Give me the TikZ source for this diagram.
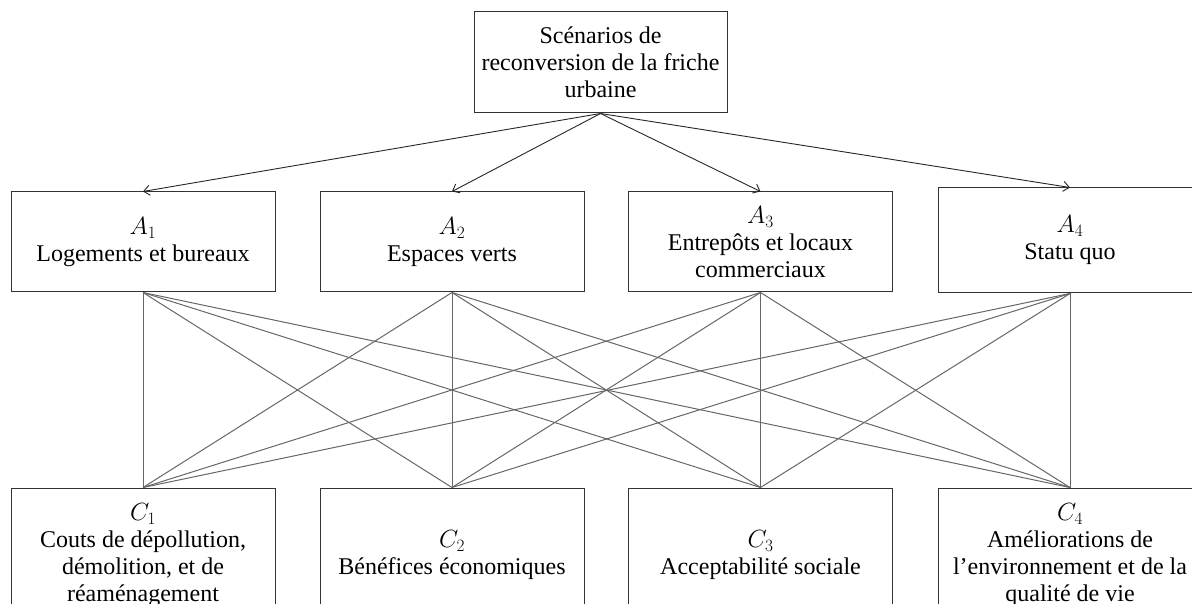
\documentclass[tikz,border=0pt]{standalone}
\usepackage{fontspec}
\setmainfont{Liberation Serif}
\usetikzlibrary{arrows.meta}
\begin{document}
\begin{tikzpicture}[x=1pt,y=-1pt,
  box/.style={draw=black!80,line width=1pt,align=center,inner sep=0pt,
    font=\fontsize{24}{27}\selectfont},
  abox/.style={box,minimum width=264pt,minimum height=100pt},
  cbox/.style={box,minimum width=264pt,minimum height=134pt},
  arr/.style={draw=black!85,line width=0.9pt,-{Straight Barb[length=6pt,width=10pt]}},
  link/.style={draw=black!60,line width=1pt}]
\clip (0,0) rectangle (1192,604);
\useasboundingbox (0,0) rectangle (1192,604);
\node[box,minimum width=253pt,minimum height=101pt] (top) at (600.5,62.5)
  {Scénarios de\\reconversion de la friche\\urbaine};
\node[abox] (a1) at (143,242) {$A_1$\\Logements et bureaux};
\node[abox] (a2) at (452,242) {$A_2$\\Espaces verts};
\node[abox] (a3) at (760.5,242) {$A_3$\\Entrepôts et locaux\\commerciaux};
\node[abox,minimum height=105pt] (a4) at (1070,240.5) {$A_4$\\Statu quo};
\node[cbox] (c1) at (143,555) {$C_1$\\Couts de dépollution,\\démolition, et de\\réaménagement};
\node[cbox] (c2) at (452,555) {$C_2$\\Bénéfices économiques};
\node[cbox] (c3) at (760.5,555) {$C_3$\\Acceptabilité sociale};
\node[cbox] (c4) at (1070,555) {$C_4$\\Améliorations de\\l’environnement et de la\\qualité de vie};
\foreach \i in {1,2,3,4}{
  \draw[arr] (top.south) -- (a\i.north);
  \foreach \j in {1,2,3,4}{
    \draw[link] (a\i.south) -- (c\j.north);
  }
}
\end{tikzpicture}
\end{document}
